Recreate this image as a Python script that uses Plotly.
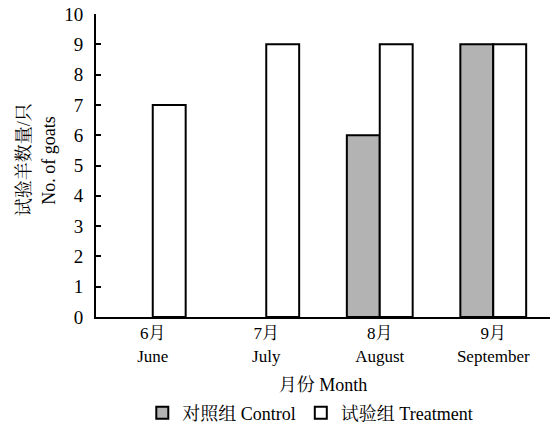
import plotly.graph_objects as go

months = ["6月<br>June", "7月<br>July", "8月<br>August", "9月<br>September"]
control = [0, 0, 6, 9]
treatment = [7, 9, 9, 9]
y_ticks = list(range(0, 11))

FONT = "Liberation Serif, Noto Serif CJK SC, Noto Sans CJK SC, serif"


def nz(vals):
    return [v if v else None for v in vals]


fig = go.Figure()
fig.add_trace(go.Bar(x=months, y=nz(control), name="对照组 Control",
                     marker=dict(color="#b3b3b3", line=dict(color="black", width=2))))
fig.add_trace(go.Bar(x=months, y=nz(treatment), name="试验组 Treatment",
                     marker=dict(color="white", line=dict(color="black", width=2))))

fig.update_layout(
    width=557, height=429,
    margin=dict(l=96, r=7, t=14, b=112, autoexpand=False),
    paper_bgcolor="white", plot_bgcolor="white",
    font=dict(family=FONT, size=17, color="black"),
    barmode="group", bargap=0.42, bargroupgap=0,
    showlegend=True,
    legend=dict(orientation="h", x=0.472, xanchor="center", y=-0.317, yanchor="middle",
                font=dict(family=FONT, size=18), itemwidth=30, traceorder="normal"),
    xaxis=dict(showline=True, linecolor="black", linewidth=2, ticks="",
               tickfont=dict(family=FONT, size=17), automargin=False,
               title=dict(text="月份 Month", font=dict(family=FONT, size=18), standoff=14)),
    yaxis=dict(range=[0, 10], tickvals=y_ticks, showline=True, linecolor="black", linewidth=2,
               ticks="inside", ticklen=5, tickwidth=2, tickcolor="black", automargin=False,
               showgrid=False, zeroline=False, tickfont=dict(family=FONT, size=19),
               ticklabelstandoff=7),
    annotations=[
        dict(text="试验羊数量/只", textangle=-90, xref="paper", yref="paper",
             x=-0.158, y=0.518, xanchor="center", yanchor="middle", showarrow=False,
             font=dict(family=FONT, size=18)),
        dict(text="No. of goats", textangle=-90, xref="paper", yref="paper",
             x=-0.104, y=0.518, xanchor="center", yanchor="middle", showarrow=False,
             font=dict(family=FONT, size=18)),
    ],
)

fig.write_html("out.html", config={"displayModeBar": False},
               post_script="document.body.style.margin='0';document.body.style.overflow='hidden';")
